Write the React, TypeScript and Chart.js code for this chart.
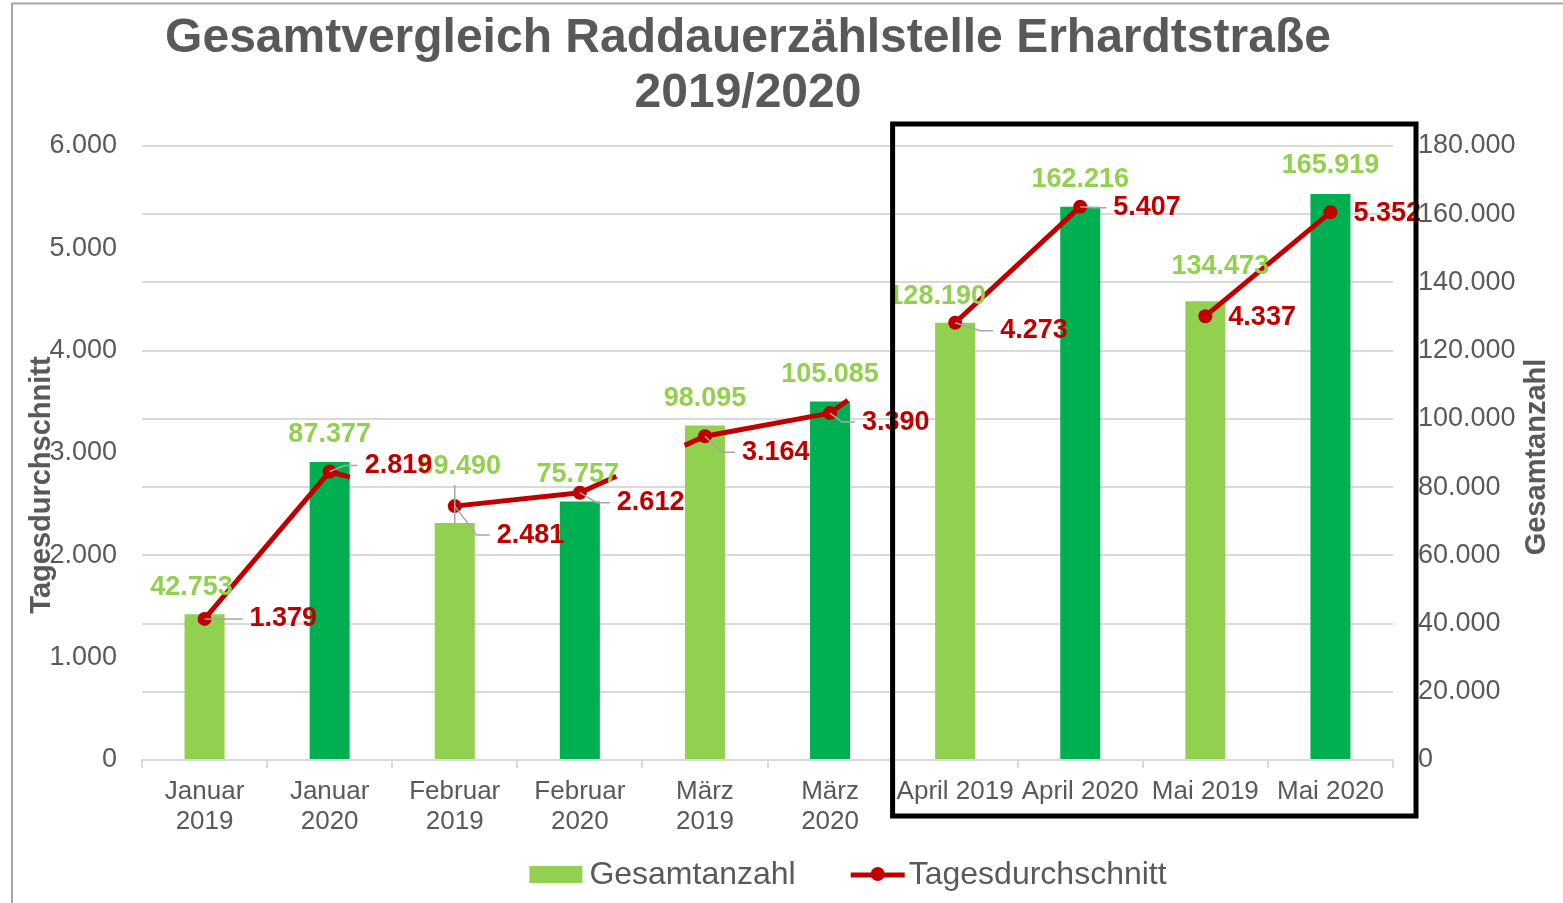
import React, { useEffect, useRef } from 'react';
import { Chart, registerables } from 'chart.js';

Chart.register(...registerables);

// ---------- data ----------
const CATEGORIES: (string | string[])[] = [
  ['Januar', '2019'], ['Januar', '2020'],
  ['Februar', '2019'], ['Februar', '2020'],
  ['März', '2019'], ['März', '2020'],
  'April 2019', 'April 2020', 'Mai 2019', 'Mai 2020',
];
const YEARS = [2019, 2020, 2019, 2020, 2019, 2020, 2019, 2020, 2019, 2020];
const GESAMTANZAHL = [42753, 87377, 69490, 75757, 98095, 105085, 128190, 162216, 134473, 165919];
const TAGESDURCHSCHNITT = [1379, 2819, 2481, 2612, 3164, 3390, 4273, 5407, 4337, 5352];

const LEFT_MIN = 0, LEFT_MAX = 6000, LEFT_STEP = 1000;
const RIGHT_MIN = 0, RIGHT_MAX = 180000, RIGHT_STEP = 20000;

const TITLE_LINES = ['Gesamtvergleich Raddauerzählstelle Erhardtstraße', '2019/2020'];
const LEFT_TITLE = 'Tagesdurchschnitt';
const RIGHT_TITLE = 'Gesamtanzahl';
const BAR_LABEL = 'Gesamtanzahl';
const LINE_LABEL = 'Tagesdurchschnitt';

// ---------- styles / layout ----------
const LIGHT = '#92D050';
const DARK = '#00B050';
const RED = '#C00000';
const TEXT = '#595959';
const GRID = '#D9D9D9';
const FONT = '"Liberation Sans", Arial, Helvetica, sans-serif';

// label offsets (px) relative to bar top / point
const BAR_LABEL_OFFSETS = [[-13, -27], [0, -27], [5, -56], [-2, -27], [0, -27], [0, -27], [-18, -26], [0, -27], [15, -35], [0, -28]];
const LINE_LABEL_OFFSETS = [[45, 0], [35, -6], [42, 29], [37, 10], [37, 16], [32, 9], [45, 8], [33, 1], [23, 1], [23, 1]];
// dash pattern per line segment (segment i joins point i and i+1)
const SEGMENT_DASH = [[], [21, 1000], [], [40, 75, 30, 1000], [], [22, 1000], [], [0, 1000], []];

const fmt = (v: number) => String(Math.round(v)).replace(/\B(?=(\d{3})+(?!\d))/g, '.');

const overlay = {
  id: 'overlay',
  afterDatasetsDraw(chart: any) {
    const ctx = chart.ctx as CanvasRenderingContext2D;
    const lineMeta = chart.getDatasetMeta(0);
    const barMeta = chart.getDatasetMeta(1);
    ctx.save();
    // leader lines
    ctx.strokeStyle = '#A6A6A6';
    ctx.lineWidth = 1.5;
    lineMeta.data.forEach((pt: any, i: number) => {
      const [dx, dy] = LINE_LABEL_OFFSETS[i];
      if (dx < 30) return;
      const lx = pt.x + dx, ly = pt.y + dy;
      ctx.beginPath();
      ctx.moveTo(pt.x, pt.y);
      ctx.lineTo(lx - 20, ly);
      ctx.lineTo(lx - 7, ly);
      ctx.stroke();
    });
    barMeta.data.forEach((bar: any, i: number) => {
      const [, dy] = BAR_LABEL_OFFSETS[i];
      if (dy > -40) return;
      ctx.beginPath();
      ctx.moveTo(bar.x, bar.y);
      ctx.lineTo(bar.x, bar.y + dy + 18);
      ctx.stroke();
    });
    // bar labels
    ctx.font = `bold 27px ${FONT}`;
    ctx.textAlign = 'center';
    ctx.textBaseline = 'middle';
    ctx.fillStyle = LIGHT;
    barMeta.data.forEach((bar: any, i: number) => {
      const [dx, dy] = BAR_LABEL_OFFSETS[i];
      ctx.fillText(fmt(GESAMTANZAHL[i]), bar.x + dx, bar.y + dy);
    });
    // line labels
    ctx.textAlign = 'left';
    ctx.fillStyle = RED;
    lineMeta.data.forEach((pt: any, i: number) => {
      const [dx, dy] = LINE_LABEL_OFFSETS[i];
      ctx.fillText(fmt(TAGESDURCHSCHNITT[i]), pt.x + dx, pt.y + dy);
    });
    ctx.restore();
  },
  afterDraw(chart: any) {
    const ctx = chart.ctx as CanvasRenderingContext2D;
    const area = chart.chartArea;
    const xs = chart.scales.x;
    ctx.save();
    // outer border
    ctx.strokeStyle = '#A6A6A6';
    ctx.lineWidth = 2;
    ctx.strokeRect(12, 3.5, chart.width + 50, chart.height + 50);
    // highlight box around April / May
    const boxLeft = (xs.getPixelForValue(5) + xs.getPixelForValue(6)) / 2;
    ctx.strokeStyle = '#000000';
    ctx.lineWidth = 5;
    ctx.strokeRect(boxLeft, area.top - 22, area.right + 23 - boxLeft, area.bottom + 56 - (area.top - 22));
    // title
    ctx.fillStyle = TEXT;
    ctx.textAlign = 'center';
    ctx.textBaseline = 'middle';
    ctx.font = `bold 48px ${FONT}`;
    const tx = 748;
    ctx.fillText(TITLE_LINES[0], tx, 39);
    ctx.fillText(TITLE_LINES[1], tx, 94);
    // axis titles
    ctx.font = `bold 29px ${FONT}`;
    ctx.save();
    ctx.translate(42, 485);
    ctx.rotate(-Math.PI / 2);
    ctx.fillText(LEFT_TITLE, 0, 0);
    ctx.restore();
    ctx.save();
    ctx.translate(1537, 457);
    ctx.rotate(-Math.PI / 2);
    ctx.fillText(RIGHT_TITLE, 0, 0);
    ctx.restore();
    // legend
    ctx.font = `32px ${FONT}`;
    ctx.textAlign = 'left';
    const ly = 875;
    const w1 = ctx.measureText(BAR_LABEL).width;
    const w2 = ctx.measureText(LINE_LABEL).width;
    const total = 53 + 7 + w1 + 55 + 54 + 4 + w2;
    let x = 848 - total / 2;
    ctx.fillStyle = LIGHT;
    ctx.fillRect(x, ly - 9, 53, 17);
    x += 60;
    ctx.fillStyle = TEXT;
    ctx.fillText(BAR_LABEL, x, ly);
    x += w1 + 55;
    ctx.strokeStyle = RED;
    ctx.lineWidth = 5;
    ctx.beginPath();
    ctx.moveTo(x, ly);
    ctx.lineTo(x + 54, ly);
    ctx.stroke();
    ctx.fillStyle = RED;
    ctx.beginPath();
    ctx.arc(x + 27, ly - 1, 7, 0, Math.PI * 2);
    ctx.fill();
    x += 58;
    ctx.fillStyle = TEXT;
    ctx.fillText(LINE_LABEL, x, ly);
    ctx.restore();
  },
};

export default function App() {
  const ref = useRef<HTMLCanvasElement | null>(null);
  useEffect(() => {
    if (!ref.current) return;
    const chart = new Chart(ref.current, {
      type: 'bar',
      data: {
        labels: CATEGORIES as any,
        datasets: [
          {
            type: 'line',
            label: LINE_LABEL,
            data: TAGESDURCHSCHNITT,
            yAxisID: 'y',
            borderColor: RED,
            backgroundColor: RED,
            borderWidth: 5,
            borderJoinStyle: 'round',
            pointRadius: 7,
            pointBorderWidth: 0,
            pointBackgroundColor: RED,
            order: 0,
            segment: {
              borderDash: (c: any) => SEGMENT_DASH[c.p0DataIndex] || [],
            },
          } as any,
          {
            type: 'bar',
            label: BAR_LABEL,
            data: GESAMTANZAHL,
            yAxisID: 'y1',
            backgroundColor: YEARS.map((y) => (y === 2019 ? LIGHT : DARK)),
            barPercentage: 0.32,
            categoryPercentage: 1,
            order: 1,
          } as any,
        ],
      },
      options: {
        responsive: false,
        animation: false,
        layout: { padding: { top: 146, left: 0, right: 0, bottom: 0 } },
        plugins: {
          legend: { display: false },
          title: { display: false },
          tooltip: { enabled: false },
        },
        scales: {
          x: {
            offset: true,
            grid: { display: true, drawOnChartArea: false, drawTicks: true, tickLength: 8, color: GRID, lineWidth: 2, offset: true },
            border: { display: true, color: GRID, width: 2 },
            ticks: { color: TEXT, font: { family: FONT, size: 26, lineHeight: 1.15 }, padding: 9, maxRotation: 0, autoSkip: false },
            afterFit: (s: any) => { s.height = 143; },
          },
          y: {
            position: 'left',
            min: LEFT_MIN,
            max: LEFT_MAX,
            ticks: { stepSize: LEFT_STEP, color: TEXT, font: { family: FONT, size: 27 }, padding: 25, callback: (v: any) => fmt(Number(v)) },
            grid: { display: false, drawTicks: false },
            border: { display: false },
            afterFit: (s: any) => { s.width = 142; },
          },
          y1: {
            position: 'right',
            min: RIGHT_MIN,
            max: RIGHT_MAX,
            ticks: { stepSize: RIGHT_STEP, color: TEXT, font: { family: FONT, size: 27 }, padding: 25, callback: (v: any) => fmt(Number(v)) },
            grid: { color: GRID, lineWidth: 2, drawTicks: false },
            border: { display: false },
            afterFit: (s: any) => { s.width = 170; },
          },
        },
      } as any,
      plugins: [overlay],
    });
    return () => chart.destroy();
  }, []);

  return (
    <div style={{ position: 'fixed', left: 0, top: 0, width: 1563, height: 903, background: '#fff' }}>
      <canvas ref={ref} width={1563} height={903} style={{ display: 'block' }} />
    </div>
  );
}
